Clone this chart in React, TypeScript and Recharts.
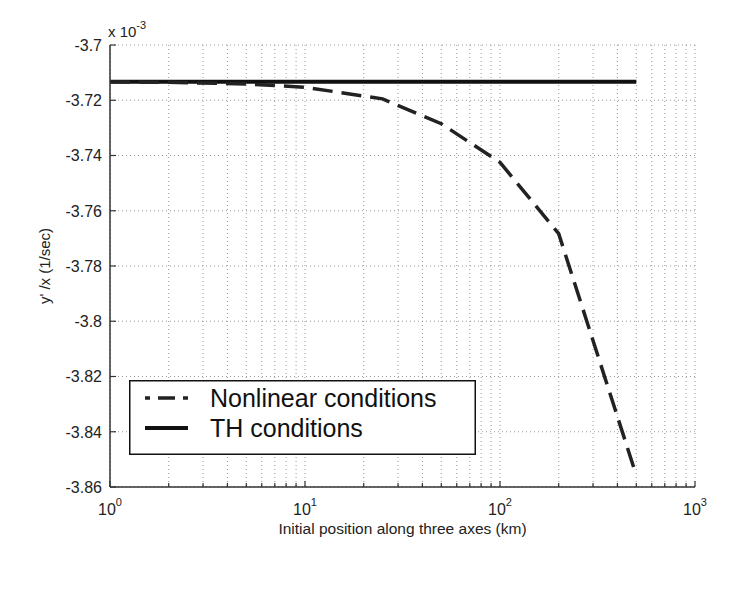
import React from 'react';
import { LineChart, Line, XAxis, YAxis, CartesianGrid, Legend, Label } from 'recharts';

// ---- data (values in units of 1e-3 1/sec) ----
const xTicks = [1, 2, 3, 4, 5, 6, 7, 8, 9, 10, 20, 30, 40, 50, 60, 70, 80, 90, 100, 200, 300, 400, 500, 600, 700, 800, 900, 1000];
const yTicks = [-3.86, -3.84, -3.82, -3.8, -3.78, -3.76, -3.74, -3.72, -3.7];
const nonlinearX = [1, 2, 5, 10, 25, 50, 100, 200, 500];
const nonlinearY = [-3.7133, -3.7135, -3.7141, -3.7153, -3.7195, -3.7285, -3.7425, -3.7683, -3.8558];
const thX = [1, 500];
const thY = [-3.7133, -3.7133];
const seriesNames = ['Nonlinear conditions', 'TH conditions'];
const xLabel = 'Initial position along three axes (km)';
const yLabel = "y' /x (1/sec)";

const nonlinearData = nonlinearX.map((x, i) => ({ x, y: nonlinearY[i] }));
const thData = thX.map((x, i) => ({ x, y: thY[i] }));

const FONT = '"Liberation Sans", Arial, Helvetica, sans-serif';
const TXT = '#222';
const AX = '#333';

const isMajor = (v: number) => Math.abs(Math.log10(v) - Math.round(Math.log10(v))) < 1e-9;

const BottomTick = (props: any) => {
  const { x, y, payload } = props;
  const v = payload.value as number;
  const major = isMajor(v);
  const e = Math.round(Math.log10(v));
  return (
    <g>
      <line x1={x} x2={x} y1={y} y2={y - (major ? 6 : 4)} stroke={AX} strokeWidth={1.2} />
      {major && (
        <text x={x} y={y + 28} textAnchor="middle" fontSize={16} fontFamily={FONT} fill={TXT}>
          <tspan>10</tspan>
          <tspan dy={-9} fontSize={11}>{e}</tspan>
        </text>
      )}
    </g>
  );
};

const TopTick = (props: any) => {
  const { x, y, payload } = props;
  const major = isMajor(payload.value);
  return <line x1={x} x2={x} y1={y} y2={y + (major ? 6 : 4)} stroke={AX} strokeWidth={1.2} />;
};

const LeftTick = (props: any) => {
  const { x, y, payload } = props;
  const v = payload.value as number;
  const label = parseFloat(v.toFixed(2)).toString();
  return (
    <g>
      <line x1={x + 8} x2={x + 14} y1={y} y2={y} stroke={AX} strokeWidth={1.2} />
      <text x={x} y={y} dy="0.36em" textAnchor="end" fontSize={16} fontFamily={FONT} fill={TXT}>
        {label}
      </text>
    </g>
  );
};

const RightTick = (props: any) => {
  const { x, y } = props;
  return <line x1={x} x2={x - 6} y1={y} y2={y} stroke={AX} strokeWidth={1.2} />;
};

const LegendBox = () => (
  <svg width={347} height={75} style={{ display: 'block' }}>
    <rect x={0.75} y={0.75} width={345.5} height={73.5} fill="#fff" stroke="#111" strokeWidth={1.5} />
    <line x1={16} x2={59} y1={18} y2={18} stroke="#222" strokeWidth={3.5} strokeDasharray="5 8 17 8 5" />
    <text x={81} y={18} dy="0.36em" fontSize={25} fontFamily={FONT} fill="#111">{seriesNames[0]}</text>
    <line x1={16} x2={59} y1={48} y2={48} stroke="#111" strokeWidth={4} />
    <text x={81} y={48} dy="0.36em" fontSize={25} fontFamily={FONT} fill="#111">{seriesNames[1]}</text>
  </svg>
);

export default function App() {
  return (
    <div style={{ width: 735, height: 589, background: '#fff' }}>
      <LineChart width={735} height={589} margin={{ top: 37, right: 48, left: 0, bottom: 50 }}>
        <CartesianGrid stroke="#999" strokeDasharray="1 3" strokeWidth={1} />
        <XAxis
          xAxisId={0}
          dataKey="x"
          type="number"
          scale="log"
          domain={[1, 1000]}
          allowDataOverflow
          ticks={xTicks}
          interval={0}
          height={60}
          tickSize={0}
          tickMargin={0}
          tickLine={false}
          axisLine={{ stroke: AX, strokeWidth: 1.5 }}
          tick={<BottomTick />}
        >
          <Label
            content={(p: any) => {
              const vb = p.viewBox;
              return (
                <text x={vb.x + vb.width / 2} y={vb.y + 47} textAnchor="middle" fontSize={15.5} fontFamily={FONT} fill={TXT}>
                  {xLabel}
                </text>
              );
            }}
          />
        </XAxis>
        <XAxis
          xAxisId="top"
          orientation="top"
          type="number"
          scale="log"
          domain={[1, 1000]}
          allowDataOverflow
          ticks={xTicks}
          interval={0}
          height={0}
          tickSize={0}
          tickMargin={0}
          tickLine={false}
          axisLine={{ stroke: AX, strokeWidth: 1.5 }}
          tick={<TopTick />}
        />
        <YAxis
          yAxisId={0}
          type="number"
          domain={[-3.86, -3.7]}
          allowDataOverflow
          ticks={yTicks}
          interval={0}
          width={102}
          tickSize={0}
          tickMargin={8}
          tickLine={false}
          axisLine={{ stroke: AX, strokeWidth: 1.5 }}
          tick={<LeftTick />}
        >
          <Label
            content={(p: any) => {
              const vb = p.viewBox;
              const cx = 37;
              const cy = vb.y + vb.height / 2;
              return (
                <text x={cx} y={cy} textAnchor="middle" dy="0.36em" transform={`rotate(-90, ${cx}, ${cy})`} fontSize={15} fontFamily={FONT} fill={TXT}>
                  {yLabel}
                </text>
              );
            }}
          />
          <Label
            content={(p: any) => {
              const vb = p.viewBox;
              return (
                <text x={vb.x + vb.width - 2} y={vb.y - 8} textAnchor="start" fontSize={15} fontFamily={FONT} fill={TXT}>
                  <tspan>x 10</tspan>
                  <tspan dy={-8} fontSize={11}>-3</tspan>
                </text>
              );
            }}
          />
        </YAxis>
        <YAxis
          yAxisId="right"
          orientation="right"
          type="number"
          domain={[-3.86, -3.7]}
          allowDataOverflow
          ticks={yTicks}
          interval={0}
          width={0}
          tickSize={0}
          tickMargin={0}
          tickLine={false}
          axisLine={{ stroke: AX, strokeWidth: 1.5 }}
          tick={<RightTick />}
        />
        <Line
          data={thData}
          dataKey="y"
          xAxisId={0}
          yAxisId={0}
          type="linear"
          stroke="#111"
          strokeWidth={4}
          dot={false}
          isAnimationActive={false}
          name={seriesNames[1]}
        />
        <Line
          data={nonlinearData}
          dataKey="y"
          xAxisId={0}
          yAxisId={0}
          type="linear"
          stroke="#222"
          strokeWidth={3.5}
          strokeDasharray="20 9"
          dot={false}
          isAnimationActive={false}
          name={seriesNames[0]}
        />
        <Legend
          layout="vertical"
          align="center"
          verticalAlign="middle"
          wrapperStyle={{ position: 'absolute', left: 121, top: 372, width: 347, height: 75, margin: 0, padding: 0 }}
          content={() => <LegendBox />}
        />
      </LineChart>
    </div>
  );
}
